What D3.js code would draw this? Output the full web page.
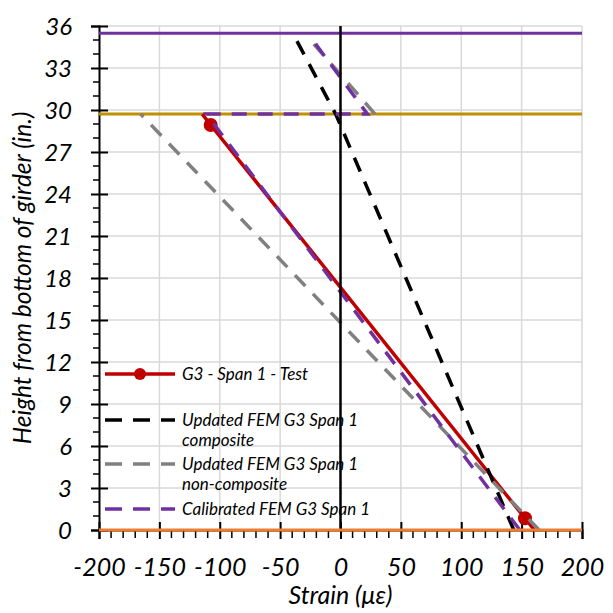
<!DOCTYPE html>
<html>
<head>
<meta charset="utf-8">
<script src="https://cdn.jsdelivr.net/npm/d3@7"></script>
<style>
  html, body { margin: 0; padding: 0; background: #fff; }
  svg { display: block; }
  text { font-family: Lato, "Open Sans", sans-serif; font-style: italic; fill: #000; }
</style>
</head>
<body>
<svg id="chart" width="613" height="613"></svg>
<script>
// ---- data ----
const xTicks = [-200, -150, -100, -50, 0, 50, 100, 150, 200];
const yTicks = [0, 3, 6, 9, 12, 15, 18, 21, 24, 27, 30, 33, 36];

// G3 - Span 1 - Test (line through test readings)
const testStrain = [-114.5, -107.5, 152.8, 160.5];
const testHeight = [29.71, 28.93, 0.84, 0];
const testMarkerStrain = [-107.5, 152.8];
const testMarkerHeight = [28.93, 0.84];

// Updated FEM G3 Span 1 composite
const compositeStrain = [143.5, -4, -39.5];
const compositeHeight = [0, 29.71, 35.48];

// Updated FEM G3 Span 1 non-composite (girder part, deck part)
const nonCompGirderStrain = [164.5, -165.5];
const nonCompGirderHeight = [0, 29.71];
const nonCompDeckStrain = [28.6, -24];
const nonCompDeckHeight = [29.71, 34.9];

// Calibrated FEM G3 Span 1
const calibratedStrain = [148.5, -111, 22.3, -23];
const calibratedHeight = [0, 29.71, 29.71, 35.0];

// reference lines
const deckTopHeight = 35.48;
const girderTopHeight = 29.71;
const bottomHeight = 0;
const zeroStrain = 0;

const legendLabels = [
  ["G3 - Span 1 - Test"],
  ["Updated FEM G3 Span 1", "composite"],
  ["Updated FEM G3 Span 1", "non-composite"],
  ["Calibrated FEM G3 Span 1"]
];

// ---- chart ----
const svg = d3.select("#chart");
const x = d3.scaleLinear().domain([-200, 200]).range([99, 582]);
const y = d3.scaleLinear().domain([0, 36]).range([530, 26]);

const grid = svg.append("g");
grid.selectAll("line.v").data(xTicks.filter(d => d > -200)).join("line")
  .attr("x1", d => x(d)).attr("x2", d => x(d))
  .attr("y1", y(0)).attr("y2", y(36))
  .attr("stroke", "#d9d9d9").attr("stroke-width", 1.5);
grid.selectAll("line.h").data(yTicks.filter(d => d > 0)).join("line")
  .attr("x1", x(-200)).attr("x2", x(200))
  .attr("y1", d => y(d)).attr("y2", d => y(d))
  .attr("stroke", "#d9d9d9").attr("stroke-width", 1.5);

// minor ticks
const xMinor = d3.range(-200, 201, 10).filter(d => d % 50 !== 0);
const yMinor = d3.range(0, 37, 1).filter(d => d % 3 !== 0);
svg.append("g").selectAll("line").data(xMinor).join("line")
  .attr("x1", d => x(d)).attr("x2", d => x(d))
  .attr("y1", y(0)).attr("y2", y(0) + 8)
  .attr("stroke", "#000").attr("stroke-width", 1.5);
svg.append("g").selectAll("line").data(yMinor).join("line")
  .attr("x1", x(-200) - 6).attr("x2", x(-200))
  .attr("y1", d => y(d)).attr("y2", d => y(d))
  .attr("stroke", "#000").attr("stroke-width", 1.5);

// axes
const xAxis = svg.append("g").attr("transform", `translate(0,${y(0)})`)
  .call(d3.axisBottom(x).tickValues(xTicks).tickSize(9).tickPadding(0).tickFormat(d3.format("d")));
xAxis.select(".domain").attr("stroke", "#000").attr("stroke-width", 2);
xAxis.selectAll(".tick line").attr("y1", -8).attr("y2", 9).attr("stroke-width", 2);
xAxis.selectAll(".tick text").attr("y", 46).attr("dy", null)
  .style("font-size", "25px").style("font-family", "Lato").style("font-style", "italic")
  .text(d => d < 0 ? "-" + Math.abs(d) : d);

const yAxis = svg.append("g").attr("transform", `translate(${x(-200)},0)`)
  .call(d3.axisLeft(y).tickValues(yTicks).tickSize(8).tickPadding(0));
yAxis.select(".domain").attr("stroke", "#000").attr("stroke-width", 2);
yAxis.selectAll(".tick line").attr("x1", -8).attr("x2", 9).attr("stroke-width", 2);
yAxis.selectAll(".tick text").attr("x", -27).attr("dy", "0.36em")
  .style("font-size", "24px").style("font-family", "Lato").style("font-style", "italic");

// reference lines
svg.append("line").attr("x1", x(-200)).attr("x2", x(200))
  .attr("y1", y(girderTopHeight)).attr("y2", y(girderTopHeight))
  .attr("stroke", "#bf9000").attr("stroke-width", 3);
svg.append("line").attr("x1", x(-200)).attr("x2", x(200))
  .attr("y1", y(deckTopHeight)).attr("y2", y(deckTopHeight))
  .attr("stroke", "#7030a0").attr("stroke-width", 3);

const line = d3.line().x(d => x(d[0])).y(d => y(d[1]));
const zip = (a, b) => a.map((v, i) => [v, b[i]]);

// test
svg.append("path").attr("d", line(zip(testStrain, testHeight)))
  .attr("fill", "none").attr("stroke", "#c00000").attr("stroke-width", 3.5);
svg.append("g").selectAll("circle").data(zip(testMarkerStrain, testMarkerHeight)).join("circle")
  .attr("cx", d => x(d[0])).attr("cy", d => y(d[1])).attr("r", 7)
  .attr("fill", "#c00000");

const dash = "15,11";
svg.append("path").attr("d", line(zip(compositeStrain, compositeHeight)))
  .attr("fill", "none").attr("stroke", "#000").attr("stroke-width", 3.5).attr("stroke-dasharray", dash);
svg.append("path").attr("d", line(zip(nonCompGirderStrain, nonCompGirderHeight)))
  .attr("fill", "none").attr("stroke", "#808080").attr("stroke-width", 3.5).attr("stroke-dasharray", dash);
svg.append("path").attr("d", line(zip(nonCompDeckStrain, nonCompDeckHeight)))
  .attr("fill", "none").attr("stroke", "#808080").attr("stroke-width", 3.5).attr("stroke-dasharray", dash);
svg.append("path").attr("d", line(zip(calibratedStrain, calibratedHeight)))
  .attr("fill", "none").attr("stroke", "#7030a0").attr("stroke-width", 3.5).attr("stroke-dasharray", dash);

// zero strain vertical line
svg.append("line").attr("x1", x(zeroStrain)).attr("x2", x(zeroStrain))
  .attr("y1", y(0)).attr("y2", y(36))
  .attr("stroke", "#000").attr("stroke-width", 2.5);
// bottom line
svg.append("line").attr("x1", x(-200)).attr("x2", x(200))
  .attr("y1", y(bottomHeight)).attr("y2", y(bottomHeight))
  .attr("stroke", "#ed7d31").attr("stroke-width", 3);

// axis titles
svg.append("text").attr("x", x(0)).attr("y", 604).attr("text-anchor", "middle")
  .style("font-size", "25px").text("Strain (με)");
svg.append("text").attr("transform", `translate(31,${(y(0) + y(36)) / 2}) rotate(-90)`)
  .attr("text-anchor", "middle").style("font-size", "24.5px")
  .text("Height from bottom of girder (in.)");

// legend
const legend = svg.append("g");
const legY = [374, 420, 464, 509];
const legColors = ["#c00000", "#000", "#808080", "#7030a0"];
legY.forEach((ly, i) => {
  legend.append("line").attr("x1", 105).attr("x2", 175).attr("y1", ly).attr("y2", ly)
    .attr("stroke", legColors[i]).attr("stroke-width", 3.5)
    .attr("stroke-dasharray", i === 0 ? null : "17,11");
  if (i === 0) legend.append("circle").attr("cx", 140).attr("cy", ly).attr("r", 6).attr("fill", legColors[0]);
  legendLabels[i].forEach((t, j) => {
    legend.append("text").attr("x", 182).attr("y", ly + 5.5 + j * 20.5)
      .style("font-size", "17px").text(t);
  });
});
</script>
</body>
</html>
